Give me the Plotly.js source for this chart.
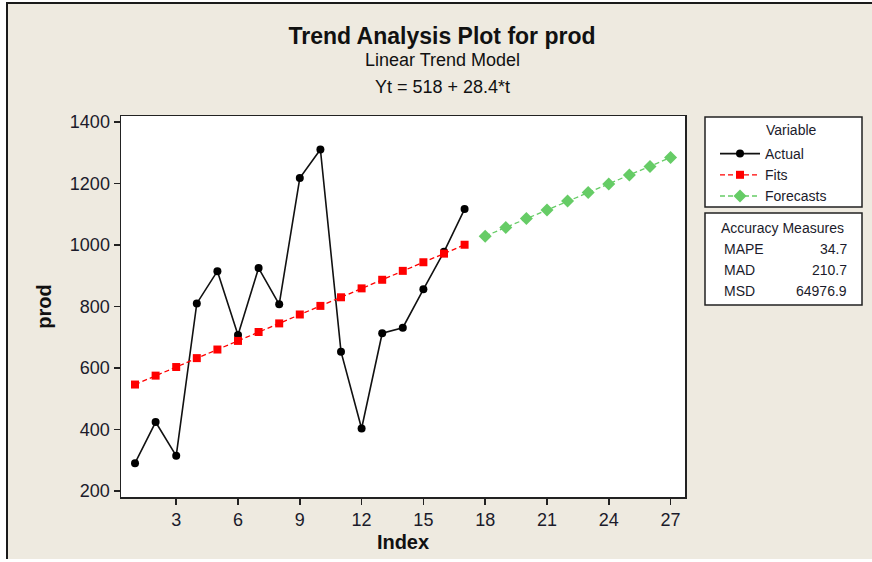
<!DOCTYPE html>
<html>
<head>
<meta charset="utf-8">
<script src="https://cdn.plot.ly/plotly-3.0.1.min.js"></script>
<style>
  html, body { margin: 0; padding: 0; background: #ffffff; }
  #wrap { position: absolute; left: 0; top: 0; width: 872px; height: 562px; overflow: hidden; }
  #bg { position: absolute; left: 6px; top: 2px; width: 900px; height: 555px;
        background: #EEEAE0; border-left: 2px solid #1a1a1a; border-top: 2px solid #1a1a1a; }
  #chart { position: absolute; left: 0; top: 0; width: 872px; height: 562px; }
</style>
</head>
<body>
<div id="wrap">
  <div id="bg"></div>
  <div id="chart"></div>
</div>
<script>
// ---- data ----
var actualIndex = [1, 2, 3, 4, 5, 6, 7, 8, 9, 10, 11, 12, 13, 14, 15, 16, 17];
var actualValues = [290, 424, 314, 810, 915, 707, 925, 807, 1218, 1311, 653, 403, 713, 731, 856, 978, 1117];
var fitsValues = [546, 575, 603, 632, 660, 688, 717, 745, 774, 802, 830, 859, 887, 916, 944, 972, 1001];
var forecastIndex = [18, 19, 20, 21, 22, 23, 24, 25, 26, 27];
var forecastValues = [1029, 1057, 1086, 1114, 1143, 1171, 1199, 1228, 1256, 1285];
var xTicks = [3, 6, 9, 12, 15, 18, 21, 24, 27];
var yTicks = [200, 400, 600, 800, 1000, 1200, 1400];
var accLabels = ['MAPE', 'MAD', 'MSD'];
var accValues = ['34.7', '210.7', '64976.9'];
var titleText = 'Trend Analysis Plot for prod';
var subtitle1 = 'Linear Trend Model';
var subtitle2 = 'Yt = 518 + 28.4*t';
var legendTitle = 'Variable';

var FONT = 'Liberation Sans, Arial, sans-serif';
var TXT = '#1b1b2b';

var traces = [
  {
    x: actualIndex, y: actualValues, name: 'Actual', type: 'scatter', mode: 'lines+markers',
    line: { color: '#111111', width: 1.6 },
    marker: { color: '#000000', size: 8, symbol: 'circle' }
  },
  {
    x: actualIndex, y: fitsValues, name: 'Fits', type: 'scatter', mode: 'lines+markers',
    line: { color: '#ff0000', width: 1.3, dash: '5px,3px' },
    marker: { color: '#ff0000', size: 8, symbol: 'square' }
  },
  {
    x: forecastIndex, y: forecastValues, name: 'Forecasts', type: 'scatter', mode: 'lines+markers',
    line: { color: '#66cc66', width: 1.3, dash: '5px,3px' },
    marker: { color: '#66cc66', size: 10, symbol: 'diamond' }
  }
];

// pixel -> paper helpers (plot area: x 121..685, y 116..497)
function px(x) { return (x - 121) / 564; }
function py(y) { return (497 - y) / 381; }

var annotations = [
  { text: subtitle1, xref: 'paper', yref: 'paper', x: px(442), y: py(60), xanchor: 'center', yanchor: 'middle',
    showarrow: false, font: { family: FONT, size: 18, color: '#111' } },
  { text: subtitle2, xref: 'paper', yref: 'paper', x: px(442), y: py(87), xanchor: 'center', yanchor: 'middle',
    showarrow: false, font: { family: FONT, size: 18, color: '#111' } },
  { text: legendTitle, xref: 'paper', yref: 'paper', x: px(791), y: py(130), xanchor: 'center', yanchor: 'middle',
    showarrow: false, font: { family: FONT, size: 14, color: TXT } },
  { text: 'Accuracy Measures', xref: 'paper', yref: 'paper', x: px(782), y: py(228), xanchor: 'center', yanchor: 'middle',
    showarrow: false, font: { family: FONT, size: 14, color: TXT } }
];
var rowY = [249, 270, 291];
for (var i = 0; i < accLabels.length; i++) {
  annotations.push({ text: accLabels[i], xref: 'paper', yref: 'paper', x: px(722), y: py(rowY[i]),
    xanchor: 'left', yanchor: 'middle', showarrow: false, font: { family: FONT, size: 14, color: TXT } });
  annotations.push({ text: accValues[i], xref: 'paper', yref: 'paper', x: px(849), y: py(rowY[i]),
    xanchor: 'right', yanchor: 'middle', showarrow: false, font: { family: FONT, size: 14, color: TXT } });
}

var shapes = [
  { type: 'rect', xref: 'paper', yref: 'paper', x0: px(705), x1: px(862), y0: py(207), y1: py(117),
    line: { color: '#222', width: 1.5 }, fillcolor: '#ffffff', layer: 'below' },
  { type: 'rect', xref: 'paper', yref: 'paper', x0: px(705), x1: px(862), y0: py(305), y1: py(213),
    line: { color: '#222', width: 1.5 }, fillcolor: '#ffffff', layer: 'below' }
];

var layout = {
  width: 872, height: 562,
  margin: { l: 121, r: 187, t: 116, b: 65, pad: 0 },
  paper_bgcolor: 'rgba(0,0,0,0)',
  plot_bgcolor: '#ffffff',
  title: {
    text: '<b>' + titleText + '</b>',
    x: 442 / 872, xref: 'container', xanchor: 'center',
    y: 1 - 36 / 562, yref: 'container', yanchor: 'middle',
    font: { family: FONT, size: 23, color: '#111' }
  },
  xaxis: {
    range: [0.32, 27.7], tickvals: xTicks, ticks: 'outside', ticklen: 6, tickwidth: 1.5, tickcolor: '#222',
    showline: true, linecolor: '#222', linewidth: 1.5, mirror: true, showgrid: false, zeroline: false,
    tickfont: { family: FONT, size: 18, color: TXT },
    title: { text: '<b>Index</b>', font: { family: FONT, size: 20, color: '#111' }, standoff: 6 }
  },
  yaxis: {
    range: [180, 1420], tickvals: yTicks, ticks: 'outside', ticklen: 6, tickwidth: 1.5, tickcolor: '#222',
    showline: true, linecolor: '#222', linewidth: 1.5, mirror: true, showgrid: false, zeroline: false,
    tickfont: { family: FONT, size: 18, color: TXT },
    title: { text: '<b>prod</b>', font: { family: FONT, size: 20, color: '#111' }, standoff: 13 }
  },
  showlegend: true,
  legend: {
    x: px(715), y: py(138), xanchor: 'left', yanchor: 'top',
    bgcolor: 'rgba(0,0,0,0)', borderwidth: 0,
    font: { family: FONT, size: 14, color: TXT },
    itemwidth: 40
  },
  annotations: annotations,
  shapes: shapes
};

Plotly.newPlot('chart', traces, layout, { staticPlot: true, displayModeBar: false });
</script>
</body>
</html>
